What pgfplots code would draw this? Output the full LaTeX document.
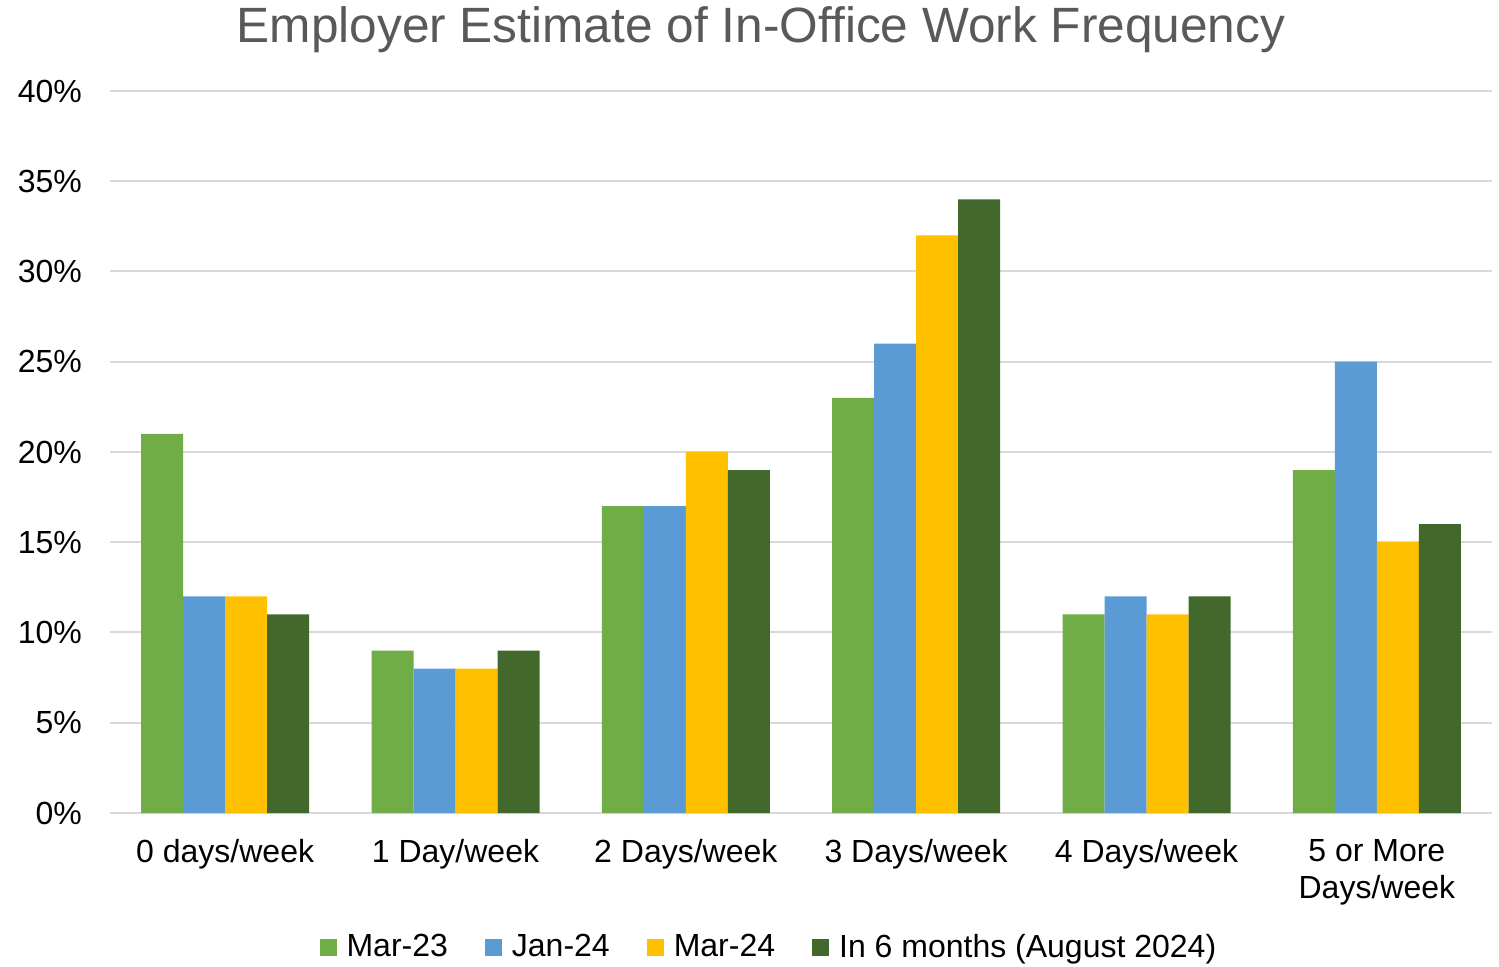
\documentclass[border=0pt]{standalone}
\usepackage{pgfplots}
\pgfplotsset{compat=1.18}
\usepackage{fontspec}
\setmainfont{Liberation Sans}
\definecolor{cA}{HTML}{70AD47}
\definecolor{cB}{HTML}{5B9BD5}
\definecolor{cC}{HTML}{FFC000}
\definecolor{cD}{HTML}{43682B}
\definecolor{gridc}{HTML}{D9D9D9}
\definecolor{titc}{HTML}{595959}
\begin{document}
\begin{tikzpicture}
\begin{axis}[
  name=ax,
  scale only axis, width=691pt, height=361pt,
  ybar=0pt, bar width=21pt,
  xmin=-0.5, xmax=5.5, ymin=0, ymax=40,
  xtick={0,1,2,3,4,5},
  xticklabels={0 days/week,1 Day/week,2 Days/week,3 Days/week,4 Days/week,{5 or More\\Days/week}},
  xticklabel style={align=center, font=\fontsize{16}{18.5}\selectfont, yshift=-9.5pt},
  ytick={0,5,...,40},
  yticklabel={\pgfmathprintnumber{\tick}\%},
  yticklabel style={font=\fontsize{16}{18}\selectfont, xshift=-10.5pt},
  /pgf/number format/assume math mode=true,
  ymajorgrids, grid style={gridc, line width=1pt},
  axis x line*=bottom, axis y line*=left,
  y axis line style={draw=none},
  x axis line style={gridc, line width=1pt},
  major tick length=0pt,
  legend style={at={(axis description cs:0.4775,-0.186)}, anchor=center, draw=none,
    font=\fontsize{16}{18}\selectfont, legend columns=4,
    /tikz/every even column/.append style={column sep=16.5pt},
    /tikz/every odd column/.append style={column sep=3pt}},
  legend image code/.code={\fill[#1,draw=none] (0pt,-4.5pt) rectangle (8.5pt,4pt);},
  clip=false,
]
\addplot[fill=cA, draw=none] coordinates {(0,21) (1,9) (2,17) (3,23) (4,11) (5,19)};
\addplot[fill=cB, draw=none] coordinates {(0,12) (1,8) (2,17) (3,26) (4,12) (5,25)};
\addplot[fill=cC, draw=none] coordinates {(0,12) (1,8) (2,20) (3,32) (4,11) (5,15)};
\addplot[fill=cD, draw=none] coordinates {(0,11) (1,9) (2,19) (3,34) (4,12) (5,16)};
\legend{Mar-23, Jan-24, Mar-24, In 6 months (August 2024)}
\node[font=\fontsize{24.8}{27}\selectfont, text=titc, anchor=center] at (axis description cs:0.471,1.0845) {Employer Estimate of In-Office Work Frequency};
\end{axis}
\pgfresetboundingbox
\path ([shift={(-55pt,-76.5pt)}]ax.south west) rectangle ([shift={(3.5pt,45.5pt)}]ax.north east);
\end{tikzpicture}
\end{document}
